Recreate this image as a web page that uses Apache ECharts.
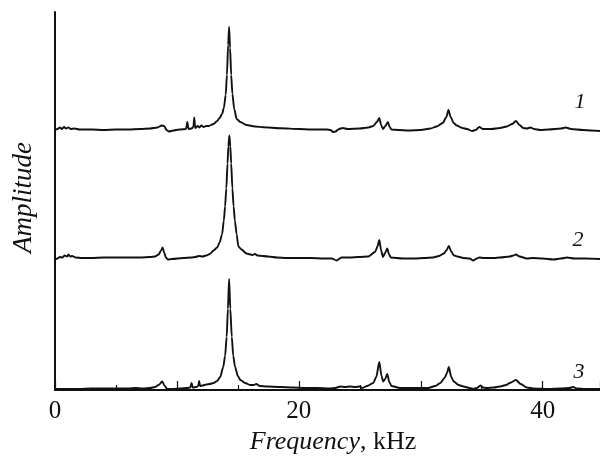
<!DOCTYPE html>
<html>
<head>
<meta charset="utf-8">
<script src="https://cdn.jsdelivr.net/npm/echarts@6/dist/echarts.min.js"></script>
<style>
  html, body { margin: 0; padding: 0; background: #fff; }
  #chart { width: 600px; height: 456px; }
</style>
</head>
<body>
<div id="chart"></div>
<script>
// Frequency axis (kHz)
const freqMin = 0;
const freqMax = 44.7;
const freqTickLabels = [0, 20, 40];

// Spectrum 1: [frequency kHz, amplitude a.u.]
const spectrum1 = [
  [0,0],[0.2,1],[0.4,2.5],[0.55,1],[0.75,3],[0.9,1.5],[1.1,2.5],[1.3,1],[1.6,1.5],[2.0,0.5],
  [3.0,0.5],[4.0,0],[5.0,0.5],[6.0,0.5],[7.0,1],[7.8,1.5],[8.4,2.5],[8.75,4.5],[8.95,4],[9.15,0],
  [9.35,-1.5],[9.7,-0.5],[10.2,0.5],[10.75,1],[10.85,8],[10.95,1],[11.2,1.5],[11.35,3],[11.42,12.5],[11.5,2],
  [11.7,4],[11.85,2.5],[12.0,4.5],[12.2,3],[12.4,4],[12.6,4],[13.0,6],[13.3,9],[13.5,12],[13.7,16],
  [13.85,22],[14.0,35],[14.1,55],[14.2,85],[14.28,103],[14.36,82],[14.45,55],[14.55,36],[14.7,21],[14.9,11],
  [15.2,8],[15.7,5],[16.4,3.5],[17.1,2.7],[18.5,1.7],[20.0,1],[21.0,0.5],[22.3,0.5],[22.6,0],[22.8,-2],
  [23.0,-1.5],[23.3,1],[23.6,2],[24.0,1],[25.0,1.5],[25.7,2.5],[26.1,4],[26.4,8],[26.6,12],[26.75,5],
  [26.9,1],[27.1,4],[27.3,8],[27.45,3],[27.6,0.5],[28.2,0],[29.0,-0.5],[30.0,0],[30.8,1.5],[31.3,3.5],
  [31.8,7],[32.1,13],[32.27,20],[32.45,13],[32.7,7],[32.95,4.5],[33.4,2],[33.8,1],[34.2,-1],[34.5,0],
  [34.8,3],[35.1,1],[35.8,1],[36.5,2],[37.05,3.5],[37.5,6],[37.8,9],[38.1,5],[38.4,2],[38.7,1.5],
  [39.0,2.5],[39.3,1],[39.8,0],[40.5,0.5],[41.5,1.5],[41.9,2.5],[42.3,1],[43.3,0],[44.0,-0.5],[44.7,-1]
];

// Spectrum 2
const spectrum2 = [
  [0,-1],[0.2,0],[0.4,1.5],[0.6,1],[0.8,3],[1.0,2],[1.1,4],[1.25,2],[1.4,2.5],[1.7,1],
  [2.2,0.5],[3.0,0.5],[4.0,1],[5.0,1],[6.0,1],[7.0,1],[7.8,1.5],[8.2,2],[8.5,4],[8.7,8],
  [8.82,11],[8.95,6],[9.1,1],[9.25,-1],[9.6,-0.5],[10.5,0.5],[11.2,1],[11.5,1.5],[11.8,2.5],[12.1,2],
  [12.4,3],[12.7,4.5],[13.0,8],[13.3,11],[13.5,16],[13.7,24],[13.85,38],[13.95,52],[14.05,70],[14.15,95],
  [14.22,112],[14.3,123],[14.38,112],[14.45,95],[14.55,70],[14.65,52],[14.75,38],[14.9,24],[15.04,12],[15.3,9],
  [15.7,5],[16.2,3.5],[16.4,4.5],[16.6,3],[17.5,2],[18.2,1],[19.0,0.5],[20.0,0.5],[21.0,0.5],[22.0,0],
  [22.7,0],[23.1,-2],[23.5,1],[24.2,1],[24.9,1.5],[25.7,2],[26.25,6.5],[26.45,12],[26.6,18.5],[26.75,8],
  [26.9,1.5],[27.05,5],[27.25,10],[27.4,4],[27.55,1],[28.5,0],[29.5,0],[30.3,0.5],[31.0,1],[31.5,2.5],
  [31.9,5],[32.1,8],[32.3,12.5],[32.5,7],[32.7,3.3],[33.0,2],[33.5,0.5],[34.0,0],[34.3,-2],[34.6,0],
  [34.8,1],[35.2,0.5],[36.0,0.5],[36.5,1],[37.3,2],[37.6,3],[37.8,4],[38.1,2],[38.7,0],[39.2,0.5],
  [40.0,0],[40.9,-1],[41.5,0],[42.0,1],[42.6,0],[43.5,0],[44.7,-0.5]
];

// Spectrum 3
const spectrum3 = [
  [0,0],[1.0,0],[2.0,0],[3.0,0.5],[4.0,0.5],[5.0,0.5],[6.0,0.5],[6.6,1],[7.2,0.5],[7.8,1],
  [8.2,2],[8.5,4],[8.8,7.5],[9.0,3],[9.2,0],[9.6,0],[10.3,0.5],[10.8,1],[11.1,1.5],[11.2,6],
  [11.3,1.5],[11.6,2],[11.75,3],[11.82,8],[11.9,3],[12.1,3.5],[12.4,4.5],[12.7,5],[13.0,6],[13.3,8],
  [13.55,12],[13.8,22],[13.95,33],[14.08,52],[14.18,80],[14.28,110],[14.38,80],[14.5,52],[14.62,33],[14.77,22],
  [15.0,13],[15.2,9],[15.6,6],[16.0,4],[16.3,4],[16.5,5],[16.8,3],[17.4,2.5],[18.5,2],[19.5,1.5],
  [20.5,1],[21.5,1],[22.5,0.5],[23.0,1],[23.4,2.5],[23.8,2],[24.2,2.5],[24.6,2],[25.0,2.5],[25.2,1],
  [25.6,3],[26.1,6],[26.35,12],[26.6,27],[26.78,13],[26.92,7.5],[27.08,10],[27.25,15],[27.42,7],[27.6,3],
  [28.3,1],[29.5,1],[30.6,1],[31.2,3],[31.6,6],[31.95,11],[32.15,16],[32.3,22],[32.5,12],[32.7,7.5],
  [33.1,4],[33.5,2.5],[34.0,1],[34.3,0],[34.6,1],[34.9,3.5],[35.1,1.5],[35.4,1],[36.0,1.5],[36.5,2.5],
  [37.0,4],[37.3,6],[37.8,9],[38.2,5],[38.7,1.5],[39.2,0.5],[40.5,0],[41.5,0.5],[42.2,1],[42.5,2],
  [42.8,0.5],[43.5,0],[44.7,0]
];

const spectra = [spectrum1, spectrum2, spectrum3];
const spectrumNames = ['1', '2', '3'];

const serif = '"Liberation Serif", "DejaVu Serif", serif';
const ink = '#111';

const chart = echarts.init(document.getElementById('chart'), null, { renderer: 'canvas' });

// Frame grid with the visible axes, plus one stacked band per spectrum
const bandTops = [5, 133.5, 264];
const bandHeight = 130;
const ampMin = -5, ampMax = 125;

const grids = [{ left: 55, right: 0, top: 12, bottom: 66, outerBoundsMode: 'none', containLabel: false }];
bandTops.forEach(t => grids.push({
  left: 55, right: 0, top: t, height: bandHeight, outerBoundsMode: 'none', containLabel: false
}));

const xAxes = [{
  gridIndex: 0, type: 'value', min: freqMin, max: freqMax, interval: 10,
  axisLine: { show: true, lineStyle: { color: ink, width: 2 } },
  axisTick: { show: true, inside: true, length: 9, lineStyle: { color: ink, width: 1.2 } },
  minorTick: { show: true, splitNumber: 2, length: 5, lineStyle: { color: ink, width: 1.2 } },
  splitLine: { show: false },
  axisLabel: {
    color: ink, fontFamily: serif, fontSize: 25, margin: 9,
    showMaxLabel: false,
    formatter: v => (freqTickLabels.indexOf(v) >= 0 ? String(v) : '')
  },
  name: '{it|Frequency}, kHz',
  nameLocation: 'middle', nameGap: 39,
  nameTextStyle: {
    color: ink, fontFamily: serif, fontSize: 26, padding: [0, 0, 0, 11],
    rich: { it: { fontStyle: 'italic', fontFamily: serif, fontSize: 26, color: ink } }
  }
}];
const yAxes = [{
  gridIndex: 0, type: 'value', min: 0, max: 1,
  axisLine: { show: true, lineStyle: { color: ink, width: 2 } },
  axisTick: { show: false }, axisLabel: { show: false }, splitLine: { show: false },
  name: 'Amplitude', nameLocation: 'middle', nameGap: 18,
  nameTextStyle: { color: ink, fontFamily: serif, fontSize: 27, fontStyle: 'italic', padding: [0, 0, 0, 7] }
}];

const series = [];
spectra.forEach((data, i) => {
  xAxes.push({ gridIndex: i + 1, type: 'value', min: freqMin, max: freqMax, show: false });
  yAxes.push({ gridIndex: i + 1, type: 'value', min: ampMin, max: ampMax, show: false });
  series.push({
    type: 'line', name: spectrumNames[i], xAxisIndex: i + 1, yAxisIndex: i + 1,
    data: data, showSymbol: false, smooth: 0.25, smoothMonotone: 'x', animation: false,
    lineStyle: { color: ink, width: 1.9 }, clip: false
  });
});

// Curve numbers placed to the right of each spectrum
const labelPos = [[580, 102], [578, 240], [579, 372]];
const graphic = spectrumNames.map((n, i) => ({
  type: 'text', x: labelPos[i][0], y: labelPos[i][1],
  style: {
    text: n, fill: ink, font: 'italic 22px ' + serif,
    textAlign: 'center', textVerticalAlign: 'middle'
  }
}));

chart.setOption({
  animation: false,
  backgroundColor: '#fff',
  grid: grids,
  xAxis: xAxes,
  yAxis: yAxes,
  series: series,
  graphic: graphic
});
</script>
</body>
</html>
